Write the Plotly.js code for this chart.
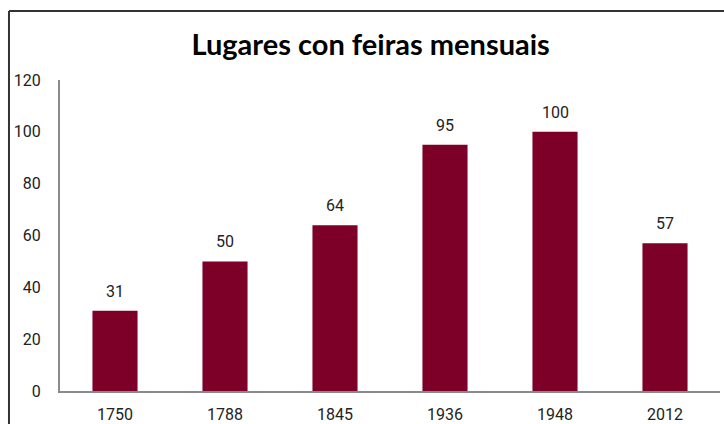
<!DOCTYPE html>
<html><head><meta charset="utf-8">
<script src="https://cdn.plot.ly/plotly-3.0.1.min.js"></script>
<style>html,body{margin:0;padding:0;background:#fff;}#chart{width:724px;height:424px;}</style>
</head><body><div id="chart"></div>
<script>
const years = ['1750','1788','1845','1936','1948','2012'];
const places = [31, 50, 64, 95, 100, 57];
const yTicks = [0, 20, 40, 60, 80, 100, 120];

const trace = {
  type: 'bar',
  x: years,
  y: places,
  marker: {color: '#7d0028'},
  hoverinfo: 'skip'
};

// category axis: annotation x given as category index
const labels = places.map((v, i) => ({
  x: i, y: v, xref: 'x', yref: 'y', text: String(v),
  showarrow: false, yanchor: 'bottom', yshift: 8,
  font: {family: 'Roboto, sans-serif', size: 16, color: '#222'}
}));

const bx = -0.0773, by = 1.2219;
const layout = {
  width: 724, height: 424,
  margin: {l: 60, r: 4, t: 80, b: 33},
  paper_bgcolor: '#fff', plot_bgcolor: '#fff',
  bargap: 0.59,
  showlegend: false,
  title: {text: 'Lugares con feiras mensuais', x: 0.512, xanchor: 'center', y: 0.895, yanchor: 'middle',
    font: {family: 'Lato, sans-serif', size: 29, color: '#000', weight: 'bold'}},
  xaxis: {type: 'category', range: [-0.5, years.length - 0.5], showline: true, linecolor: '#8a8a8a', linewidth: 2,
    showgrid: false, zeroline: false, ticks: 'outside', ticklen: 8, tickcolor: 'rgba(0,0,0,0)',
    tickfont: {family: 'Roboto, sans-serif', size: 16, color: '#222'}},
  yaxis: {range: [0, 120], tickvals: yTicks, showline: true, linecolor: '#8a8a8a', linewidth: 2,
    showgrid: false, zeroline: false, ticks: 'outside', ticklen: 14, tickcolor: 'rgba(0,0,0,0)',
    tickfont: {family: 'Roboto, sans-serif', size: 16, color: '#222'}},
  annotations: labels,
  shapes: [
    {type: 'line', xref: 'paper', yref: 'paper', x0: bx, x1: bx, y0: -0.2, y1: by, line: {color: '#333', width: 2}},
    {type: 'line', xref: 'paper', yref: 'paper', x0: bx, x1: 1.2, y0: by, y1: by, line: {color: '#333', width: 2}}
  ]
};
Plotly.newPlot('chart', [trace], layout, {displayModeBar: false, staticPlot: true});
</script></body></html>
